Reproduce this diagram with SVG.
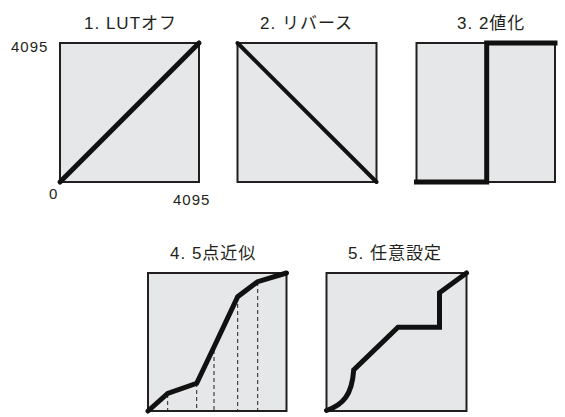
<svg xmlns="http://www.w3.org/2000/svg" width="565" height="417" viewBox="0 0 565 417">
<style>
.box{fill:#e6e7e8;stroke:#231f20;stroke-width:2}
.curve{fill:none;stroke:#111;stroke-width:5;stroke-linecap:round;stroke-linejoin:miter}
.title{font-family:"Liberation Sans","Noto Sans CJK JP",sans-serif;font-size:17px;fill:#231f20;letter-spacing:1px}
.num{font-family:"Liberation Sans",sans-serif;font-size:15px;fill:#231f20;letter-spacing:1px}
.dash{stroke:#231f20;stroke-width:1;stroke-dasharray:4 3;fill:none}
</style>
<rect width="565" height="417" fill="#fff"/>
<g id="panel1">
<rect class="box" x="60" y="43" width="139" height="139"/>
<text class="title" x="84" y="29">1. LUTオフ</text>
<text class="num" x="11" y="52">4095</text>
<text class="num" x="49" y="199">0</text>
<text class="num" x="173" y="205">4095</text>
</g>
<g id="panel2">
<rect class="box" x="237.5" y="43" width="139" height="139"/>
<text class="title" x="260" y="29">2. リバース</text>
</g>
<g id="panel3">
<rect class="box" x="416.5" y="43" width="138.5" height="139"/>
<text class="title" x="457" y="29">3. 2値化</text>
</g>
<g id="panel4">
<rect class="box" x="148" y="273" width="138.5" height="138"/>
<text class="title" x="170" y="259">4. 5点近似</text>
</g>
<g id="panel5">
<rect class="box" x="326.5" y="273" width="140" height="138"/>
<text class="title" x="348" y="259">5. 任意設定</text>
</g>
<g id="connectors">
<line class="curve" x1="60" y1="182" x2="199" y2="43"/>
<line class="curve" x1="237.5" y1="43" x2="376.5" y2="182" style="stroke-width:4"/>
<polyline class="curve" points="416.5,182 486.7,182 486.7,43 555,43" style="stroke-linecap:square"/>
<line class="dash" x1="167.7" y1="394" x2="167.7" y2="411"/>
<line class="dash" x1="196.7" y1="383" x2="196.7" y2="411"/>
<line class="dash" x1="214" y1="350" x2="214" y2="411"/>
<line class="dash" x1="237.7" y1="297" x2="237.7" y2="411"/>
<line class="dash" x1="257.7" y1="282" x2="257.7" y2="411"/>
<polyline class="curve" points="148,411 167.7,393.5 196.7,383.3 214,347 237.7,296.7 257.7,281.7 286.5,273"/>
<path class="curve" d="M326.5,410.5 C343,405 352,395 353.7,370 L398,327.3 L439.5,327.3 L439.5,292.7 L466.5,273"/>
</g>
</svg>
